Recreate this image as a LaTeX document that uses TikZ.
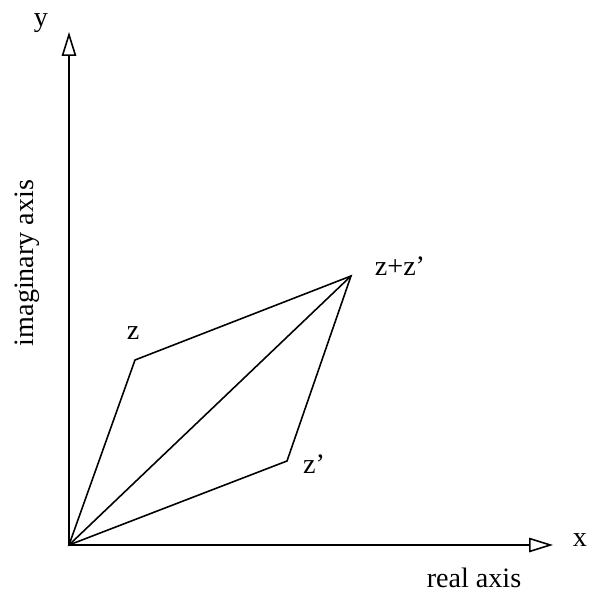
\documentclass[tikz,border=0pt]{standalone}
\usepackage{fontspec}
\setmainfont{Liberation Serif}
\usepackage{tikz}
\usetikzlibrary{
  arrows.meta,
  positioning
}
\tikzset{
  axis/.style={
    -{Triangle[open,length=0.48cm,width=0.29cm]},
    line width=0.9pt
  },
  side/.style={
    line width=0.9pt
  },
  label/.style={
    font=\fontsize{16}{19}\selectfont,
    inner sep=0pt
  }
}

\begin{document}
\begin{tikzpicture}[x=0.02cm,y=0.02cm]

  \useasboundingbox (-69,-52) rectangle (524,545);

  \coordinate (origin) at (0,0);
  \coordinate (xend) at (484,0);
  \coordinate (yend) at (0,513);
  \coordinate (z) at (66,185);
  \coordinate (zp) at (218,84);
  \coordinate (zsum) at (282,269);

  \draw[axis] (origin) -- (xend);
  \draw[axis] (origin) -- (yend);

  \draw[side] (origin) -- (z) -- (zsum) -- (zp) -- cycle;
  \draw[side] (origin) -- (zsum);

  \node[label] (ylabel) at (-28,522) {y};
  \node[label] (xlabel) at (511,5) {x};
  \node[label] (reallabel) at (405,-33) {real axis};
  \node[
    label,
    rotate=90
  ] (imaglabel) at (-42,282) {imaginary axis};
  \node[label] (zlabel) at (64,212) {z};
  \node[label] (zplabel) at (245,81) {z'};
  \node[label] (zsumlabel) at (331,279) {z+z'};

\end{tikzpicture}
\end{document}
